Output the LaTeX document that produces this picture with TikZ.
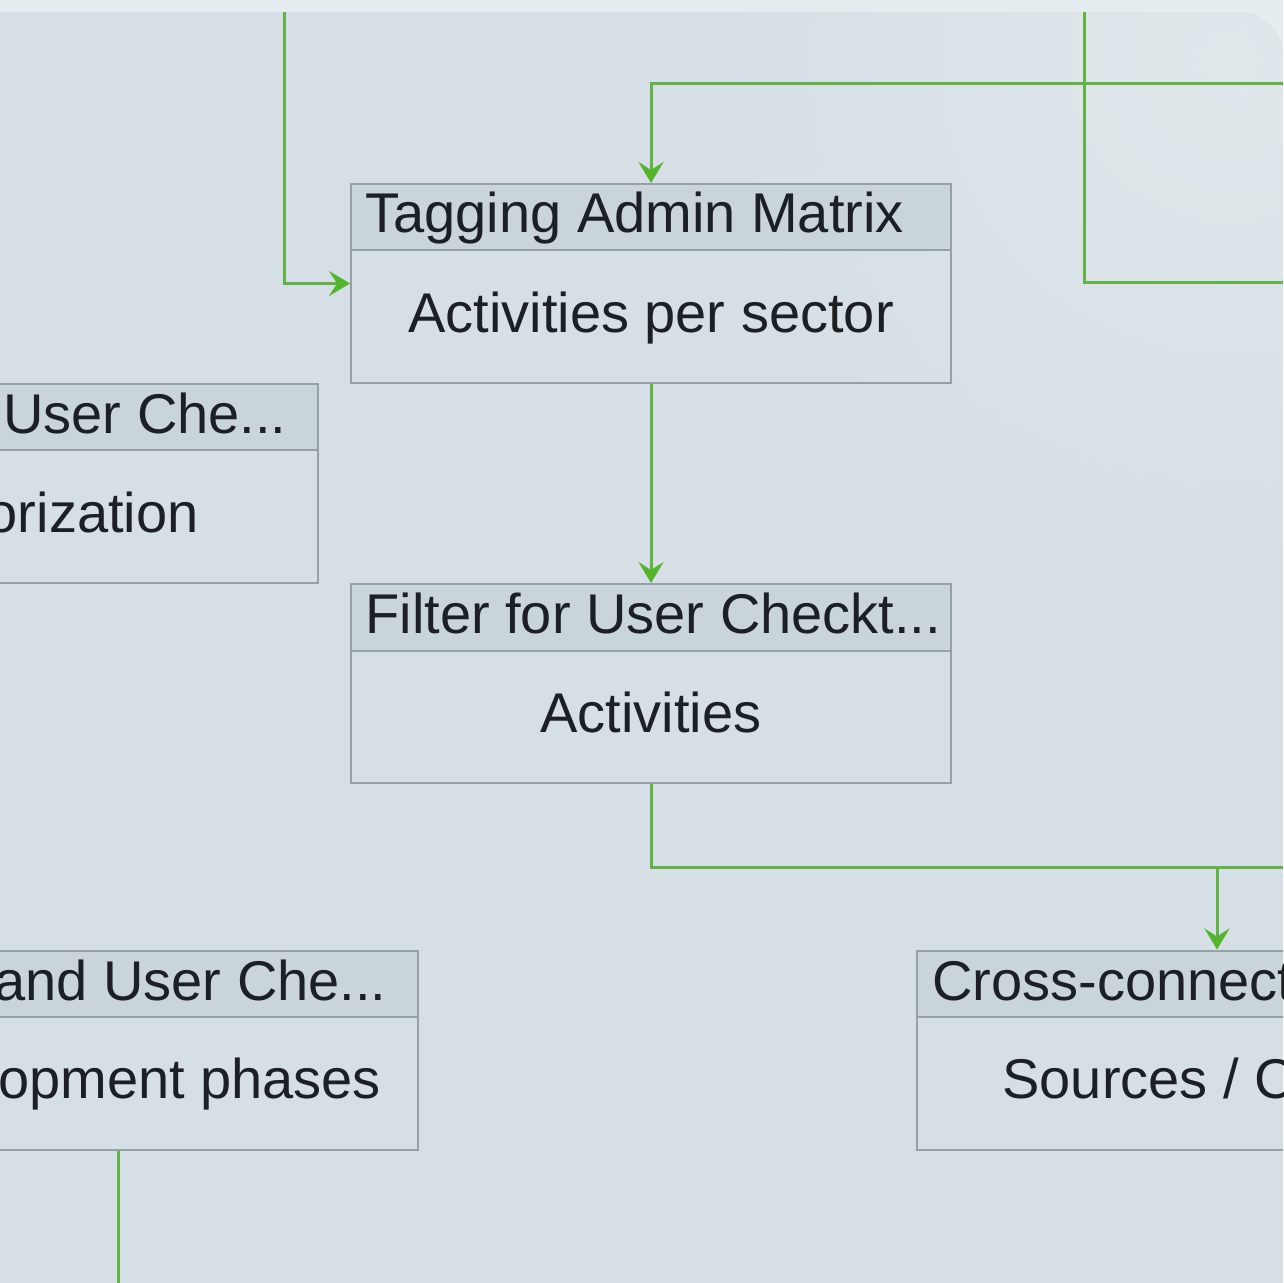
\documentclass[tikz,border=0pt]{standalone}
\usepackage{fontspec}
\setmainfont{Liberation Sans}
\usetikzlibrary{arrows.meta}
\definecolor{pagebg}{RGB}{230,237,240}
\definecolor{panelbg}{RGB}{213,223,229}
\definecolor{panellight}{RGB}{224,231,235}
\definecolor{hdrfill}{RGB}{202,212,219}
\definecolor{bordercol}{RGB}{150,160,167}
\definecolor{linkgreen}{RGB}{98,178,72}
\definecolor{arrowgreen}{RGB}{84,180,44}
\definecolor{txtcol}{RGB}{28,32,36}
\tikzset{
  box/.style={draw=bordercol, line width=1pt, minimum width=300pt, minimum height=99.5pt, inner sep=0pt},
  hdrtext/.style={text=txtcol, font=\fontsize{28}{30}\selectfont, inner sep=0pt},
  bodytext/.style={text=txtcol, font=\fontsize{28}{30}\selectfont, inner sep=0pt},
  divider/.style={draw=bordercol, line width=1pt},
  link/.style={draw=linkgreen, line width=1.5pt},
  arrowlink/.style={link, -{Stealth[length=10.5pt, width=12.5pt, inset=4pt, color=arrowgreen]}},
}
\begin{document}
\begin{tikzpicture}[x=0.5pt, y=-0.5pt]
\useasboundingbox (0,0) rectangle (1283,1283);
\clip (0,0) rectangle (1283,1283);
% background
\fill[pagebg] (0,0) rectangle (1283,1283);
\begin{scope}
  \clip[rounded corners=22pt] (-100,12) -- (1283,12) -- (1283,1400) -- (-100,1400) -- cycle;
  \fill[panelbg] (-100,12) rectangle (1283,1400);
  \shade[inner color=panellight, outer color=panelbg] (1230,60) circle (520);
\end{scope}

% header fills
\fill[hdrfill] (351,184) rectangle (951,250);
\fill[hdrfill] (-282,384) rectangle (318,450);
\fill[hdrfill] (351,584) rectangle (951,651);
\fill[hdrfill] (-182,950) rectangle (418,1017);
\fill[hdrfill] (917,950) rectangle (1517,1017);

% boxes
\node[box] (tag) at (651,283.5) {};
\node[box] (cat) at (18,483.5) {};
\node[box] (fil) at (651,683.5) {};
\node[box] (dev) at (118,1050) {};
\node[box] (cross) at (1217,1050) {};

\draw[divider] (tag.west |- 0,250) -- (tag.east |- 0,250);
\draw[divider] (cat.west |- 0,450) -- (cat.east |- 0,450);
\draw[divider] (fil.west |- 0,651) -- (fil.east |- 0,651);
\draw[divider] (dev.west |- 0,1017) -- (dev.east |- 0,1017);
\draw[divider] (cross.west |- 0,1017) -- (cross.east |- 0,1017);

% texts
\node[hdrtext, anchor=base west] (tagh) at (365,233) {Tagging Admin Matrix};
\node[bodytext, anchor=base] (tagb) at (651,332) {Activities per sector};
\node[hdrtext, anchor=base east] (cath) at (287,433) {Admin and User Che...};
\node[bodytext, anchor=base] (catb) at (18,532) {Categorization};
\node[hdrtext, anchor=base west] (filh) at (365,633) {Filter for User Checkt...};
\node[bodytext, anchor=base] (filb) at (651,732) {Activities};
\node[hdrtext, anchor=base east] (devh) at (387,1000) {Phase and User Che...};
\node[bodytext, anchor=base] (devb) at (118,1098) {Development phases};
\node[hdrtext, anchor=base west] (crossh) at (932,1000) {Cross-connections};
\node[bodytext, anchor=base west] (crossb) at (1002,1098) {Sources / Causes};

% connectors
\coordinate (inA) at (284,12);
\coordinate (inB) at (1283,84);
\coordinate (cTop) at (1084,12);
\coordinate (cRight) at (1283,283);
\coordinate (fork) at (1217,867);
\coordinate (outF) at (1283,867);
\coordinate (outD) at (118,1283);

\draw[arrowlink] (inA) |- (tag.west);
\draw[arrowlink] (inB) -| (tag.north);
\draw[link] (cTop) |- (cRight);
\draw[arrowlink] (tag.south) -- (fil.north);
\draw[arrowlink] (fil.south) |- (fork) -- (cross.north);
\draw[link] (fork) -- (outF);
\draw[link] (dev.south) -- (outD);
\end{tikzpicture}
\end{document}
